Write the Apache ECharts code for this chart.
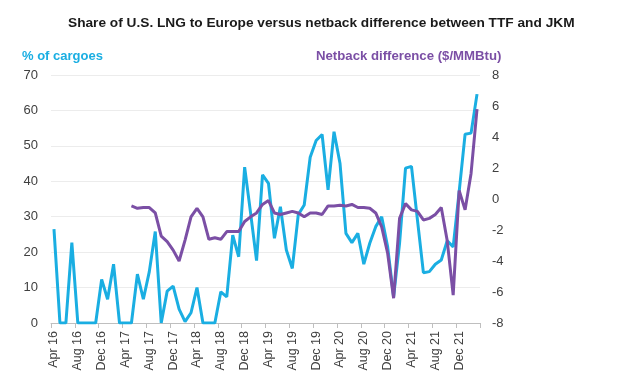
<!DOCTYPE html>
<html>
<head>
<meta charset="utf-8">
<script src="https://cdn.jsdelivr.net/npm/echarts@6/dist/echarts.min.js"></script>
<style>
html,body{margin:0;padding:0;background:#fff;}
#chart{width:624px;height:383px;}
</style>
</head>
<body>
<div id="chart"></div>
<script>
var monthNames = ['Jan','Feb','Mar','Apr','May','Jun','Jul','Aug','Sep','Oct','Nov','Dec'];
var startYear = 2016, startMonth = 3, monthCount = 72;
var categories = [];
for (var k = 0; k < monthCount; k++) {
  var m = (startMonth + k) % 12;
  var y = startYear + Math.floor((startMonth + k) / 12);
  categories.push(monthNames[m] + ' ' + String(y).slice(2));
}

var shareEurope = [
  26.5, 0, 0, 22.7, 0, 0, 0, 0, 12.3, 6.7, 16.6, 0,
  0, 0, 13.8, 6.7, 14.5, 25.8, 0, 9.0, 10.4, 3.9, 0.4, 2.9,
  10, 0, 0, 0, 8.8, 7.4, 24.8, 18.7, 44, 31, 17.6, 41.8,
  39.4, 23.9, 32.8, 20.6, 15.4, 30.6, 33.3, 46.8, 51.5, 53.2, 37.6, 54,
  45.1, 25.3, 22.7, 25.3, 16.6, 22.5, 27.2, 30, 21.5, 7.4, 22.5, 43.7,
  44.2, 29.1, 14.2, 14.5, 16.6, 17.8, 23.2, 21.5, 37, 53.3, 53.6, 64.6
];

var netbackDiff = [
  null, null, null, null, null, null, null, null, null, null, null, null,
  null, -0.45, -0.6, -0.55, -0.55, -0.9, -2.4, -2.75, -3.3, -4.0, -2.65, -1.15,
  -0.6, -1.15, -2.6, -2.5, -2.6, -2.1, -2.1, -2.1, -1.45, -1.15, -0.9, -0.35,
  -0.1, -0.9, -1.0, -0.9, -0.8, -0.9, -1.15, -0.9, -0.9, -1.0, -0.45, -0.45,
  -0.4, -0.45, -0.35, -0.55, -0.55, -0.6, -0.9, -1.8, -3.5, -6.4, -1.25, -0.3,
  -0.7, -0.8, -1.35, -1.25, -1.0, -0.55, -2.7, -6.2, 0.55, -0.7, 1.65, 5.8
];

var leftTicks = [0, 70, 10];
var rightTicks = [-8, 8, 2];

var BLUE = '#1AAEE2';
var PURPLE = '#7B4FA5';
var FONT = 'Liberation Sans, Arial, sans-serif';

var chart = echarts.init(document.getElementById('chart'), null, {renderer: 'canvas'});
chart.setOption({
  animation: false,
  backgroundColor: '#fff',
  title: [
    {text: 'Share of U.S. LNG to Europe versus netback difference between TTF and JKM',
     left: 68, top: 16, padding: 0,
     textStyle: {fontFamily: FONT, fontSize: 13.7, fontWeight: 'bold', color: '#1a1a1a'}},
    {text: '% of cargoes', left: 22, top: 50, padding: 0,
     textStyle: {fontFamily: FONT, fontSize: 13, fontWeight: 'bold', color: BLUE}},
    {text: 'Netback difference ($/MMBtu)', left: 316, top: 50, padding: 0,
     textStyle: {fontFamily: FONT, fontSize: 13.2, fontWeight: 'bold', color: PURPLE}}
  ],
  grid: {left: 51, right: 144, top: 75, bottom: 60, containLabel: false},
  xAxis: {
    type: 'category',
    data: categories,
    boundaryGap: true,
    axisLine: {show: true, lineStyle: {color: '#bfbfbf', width: 1}},
    axisTick: {show: true, interval: 3, length: 5, lineStyle: {color: '#bfbfbf'}},
    axisLabel: {interval: 3, rotate: 90, fontFamily: FONT, fontSize: 12.5, color: '#404040', margin: 8}
  },
  yAxis: [
    {type: 'value', min: leftTicks[0], max: leftTicks[1], interval: leftTicks[2],
     axisLine: {show: false}, axisTick: {show: false},
     splitLine: {show: true, lineStyle: {color: '#ececec', width: 1}},
     axisLabel: {fontFamily: FONT, fontSize: 13, color: '#404040', margin: 13}},
    {type: 'value', min: rightTicks[0], max: rightTicks[1], interval: rightTicks[2],
     position: 'right',
     axisLine: {show: false}, axisTick: {show: false}, splitLine: {show: false},
     axisLabel: {fontFamily: FONT, fontSize: 13, color: '#404040', margin: 12, align: 'left'}}
  ],
  series: [
    {name: 'Share', type: 'line', yAxisIndex: 0, data: shareEurope, showSymbol: false,
     lineStyle: {color: BLUE, width: 3}, itemStyle: {color: BLUE}, z: 2},
    {name: 'Netback', type: 'line', yAxisIndex: 1, data: netbackDiff, showSymbol: false,
     connectNulls: false,
     lineStyle: {color: PURPLE, width: 3}, itemStyle: {color: PURPLE}, z: 3}
  ]
});
</script>
</body>
</html>
